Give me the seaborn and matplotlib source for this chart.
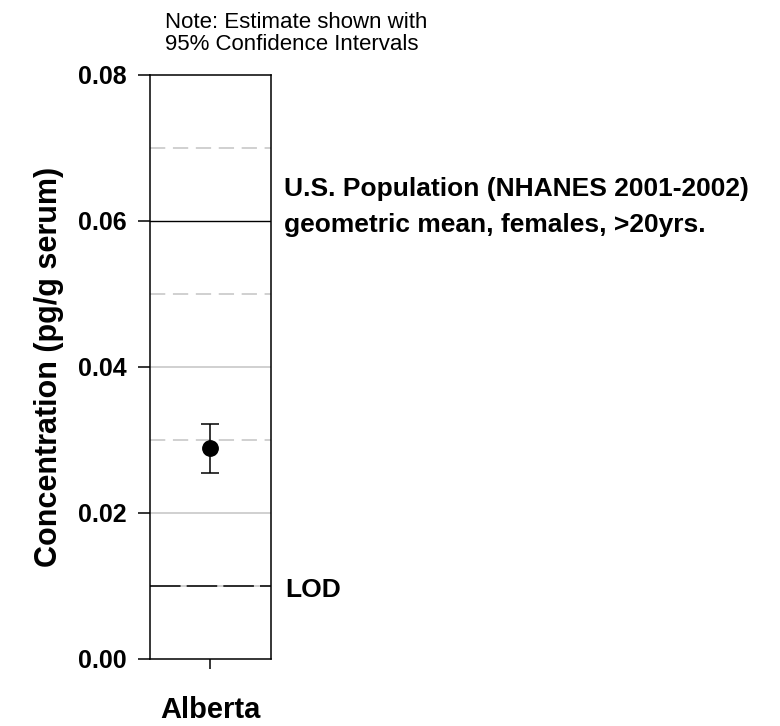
import matplotlib
matplotlib.use("Agg")
import matplotlib.pyplot as plt
import matplotlib.transforms as mtransforms
import pandas as pd
import seaborn as sns

# Survey estimate with its 95% confidence interval
regions = ["Alberta"]
estimates = [0.0288]
ci_lower = [0.0255]
ci_upper = [0.0322]

# Reference levels
us_geomean = 0.06
lod = 0.01
solid_grid = [0.02, 0.04]
dashed_grid = [0.03, 0.05, 0.07]
yticks = [0.00, 0.02, 0.04, 0.06, 0.08]

df = pd.DataFrame({"region": regions, "estimate": estimates,
                   "lo": ci_lower, "hi": ci_upper})

sns.set_theme(style="ticks")
plt.rcParams["font.family"] = ["Liberation Sans", "DejaVu Sans"]
plt.rcParams["text.color"] = "black"
plt.rcParams["axes.labelcolor"] = "black"

fig = plt.figure(figsize=(7.8, 7.26), dpi=100)
ax = fig.add_axes([0.1923, 0.0927, 0.1551, 0.8044])

# Reference lines
for y in solid_grid:
    ax.axhline(y, color="#c4c4c4", lw=1.1, zorder=1)
for y in dashed_grid:
    ax.axhline(y, color="#c4c4c4", lw=1.1, ls=(0, (10, 5)), zorder=1)
ax.axhline(us_geomean, color="black", lw=1.0, zorder=2)
ax.axhline(lod, color="#c4c4c4", lw=1.1, zorder=1)
ax.axhline(lod, color="black", lw=1.1, ls=(0, (20, 4)), zorder=2)

# Estimate and confidence interval
sns.scatterplot(data=df, x="region", y="estimate", color="black", s=125,
                edgecolor="black", zorder=4, ax=ax, legend=False)
ax.errorbar(df["region"], df["estimate"],
            yerr=[df["estimate"] - df["lo"], df["hi"] - df["estimate"]],
            fmt="none", ecolor="black", elinewidth=1.1, capsize=6.5,
            capthick=1.1, zorder=3)

ax.set_xlim(-0.5, 0.5)
ax.set_ylim(0, 0.08)
ax.set_yticks(yticks)
ax.set_yticklabels([f"{v:.2f}" for v in yticks])
ax.set_xlabel("")
ax.set_ylabel("Concentration (pg/g serum)", fontsize=22, fontweight="bold",
              labelpad=10, color="black")

for side in ["top", "right", "left", "bottom"]:
    ax.spines[side].set_visible(True)
    ax.spines[side].set_color("black")
    ax.spines[side].set_linewidth(1.1)

ax.tick_params(axis="y", direction="out", length=9, width=1.1, pad=8,
               labelsize=18, colors="black")
ax.tick_params(axis="x", direction="out", length=7, width=1.1, pad=20,
               labelsize=21, colors="black")
for lab in ax.get_yticklabels() + ax.get_xticklabels():
    lab.set_fontweight("bold")

# Annotations to the right of the panel
trans = mtransforms.blended_transform_factory(ax.transAxes, ax.transData)
ax.text(1.107, 0.0634, "U.S. Population (NHANES 2001-2002)", transform=trans,
        fontsize=19, fontweight="bold", va="baseline", ha="left", clip_on=False)
ax.text(1.107, 0.0585, "geometric mean, females, >20yrs.", transform=trans,
        fontsize=19, fontweight="bold", va="baseline", ha="left", clip_on=False)
ax.text(1.12, 0.00845, "LOD", transform=trans, fontsize=19, fontweight="bold",
        va="baseline", ha="left", clip_on=False)

fig.text(165 / 780, 1 - 28 / 726, "Note: Estimate shown with", fontsize=16,
         va="baseline", ha="left")
fig.text(165 / 780, 1 - 50 / 726, "95% Confidence Intervals", fontsize=16,
         va="baseline", ha="left")

fig.savefig("out.png", dpi=100, facecolor="white")
